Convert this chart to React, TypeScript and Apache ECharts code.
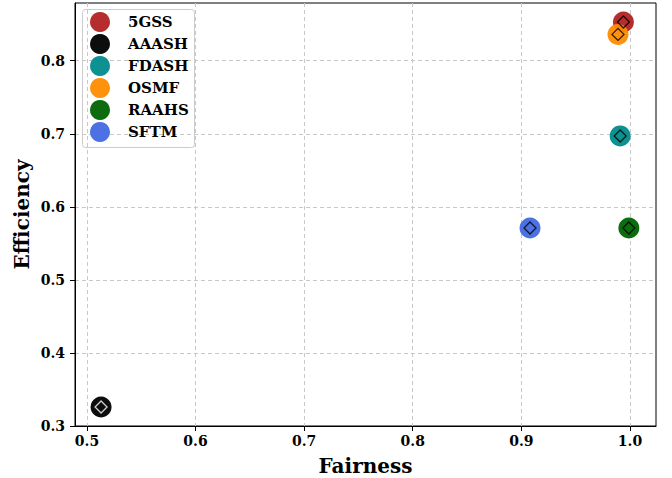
import React, { useEffect, useRef } from "react";
import * as echarts from "echarts";

const names = ["5GSS", "AAASH", "FDASH", "OSMF", "RAAHS", "SFTM"];
const colors = ["#B22222", "#000000", "#008B8B", "#FF8C00", "#006400", "#4169E1"];
const fairness = [0.994, 0.513, 0.991, 0.989, 0.999, 0.908];
const efficiency = [0.853, 0.326, 0.697, 0.836, 0.571, 0.571];
const diamondEdge = ["#000", "#fff", "#000", "#000", "#000", "#000"];
const xTicks = [0.5, 0.6, 0.7, 0.8, 0.9, 1.0];
const yTicks = [0.3, 0.4, 0.5, 0.6, 0.7, 0.8];

const FONT = "DejaVu Serif";

export default function App() {
  const ref = useRef<HTMLDivElement>(null);
  useEffect(() => {
    const chart = echarts.init(ref.current!, null, { renderer: "svg" });
    const circleSeries = names.map((n, i) => ({
      name: n,
      type: "scatter",
      symbol: "circle",
      symbolSize: 21,
      itemStyle: { color: colors[i], opacity: 0.95 },
      data: [[fairness[i], efficiency[i]]],
      z: 2,
    }));
    const diamondSeries = {
      name: "markers",
      type: "scatter",
      symbol: "diamond",
      symbolSize: 12,
      z: 3,
      data: names.map((n, i) => ({
        value: [fairness[i], efficiency[i]],
        itemStyle: { color: "rgba(0,0,0,0)", borderColor: diamondEdge[i], borderWidth: 1.3 },
      })),
    };
    const labelStyle = { fontFamily: FONT, fontWeight: "bold", fontSize: 14, color: "#000" };
    chart.setOption({
      animation: false,
      grid: {
        left: 75, right: 16, top: 3, bottom: 52,
        show: true, borderColor: "#000", borderWidth: 1,
        containLabel: false, outerBoundsMode: "none",
      },
      legend: {
        data: names,
        orient: "vertical",
        left: 90,
        top: 12,
        padding: 0,
        itemGap: 2,
        itemWidth: 46,
        itemHeight: 20,
        icon: "circle",
        textStyle: { ...labelStyle, fontSize: 15 },
      },
      graphic: [
        {
          type: "rect",
          left: 82,
          top: 9,
          shape: { width: 112, height: 138, r: 3 },
          style: { fill: "rgba(255,255,255,0.8)", stroke: "#cccccc", lineWidth: 1 },
          z: 0,
        },
      ],
      xAxis: {
        type: "value",
        min: 0.489,
        max: 1.024,
        name: "Fairness",
        nameLocation: "middle",
        nameGap: 30,
        nameTextStyle: { fontFamily: FONT, fontWeight: "bold", fontSize: 20, color: "#000" },
        axisLine: { show: true, lineStyle: { color: "#000", width: 1 } },
        axisTick: { show: true, length: 5, customValues: xTicks, lineStyle: { color: "#000" } },
        axisLabel: { ...labelStyle, margin: 8, customValues: xTicks, formatter: (v: number) => v.toFixed(1) },
        splitLine: { show: true, lineStyle: { color: "#c8c8c8", type: [4, 3], width: 1 } },
      },
      yAxis: {
        type: "value",
        min: 0.3,
        max: 0.879,
        name: "Efficiency",
        nameLocation: "middle",
        nameGap: 43,
        nameMoveOverlap: false,
        nameTextStyle: { fontFamily: FONT, fontWeight: "bold", fontSize: 20, color: "#000" },
        axisLine: { show: true, lineStyle: { color: "#000", width: 1 } },
        axisTick: { show: true, length: 5, customValues: yTicks, lineStyle: { color: "#000" } },
        axisLabel: { ...labelStyle, margin: 10, customValues: yTicks, formatter: (v: number) => v.toFixed(1) },
        splitLine: { show: true, lineStyle: { color: "#c8c8c8", type: [4, 3], width: 1 } },
      },
      series: [...circleSeries, diamondSeries],
    });
    return () => chart.dispose();
  }, []);
  return <div ref={ref} style={{ width: 672, height: 478, position: "absolute", left: 0, top: 0, background: "#fff" }} />;
}
